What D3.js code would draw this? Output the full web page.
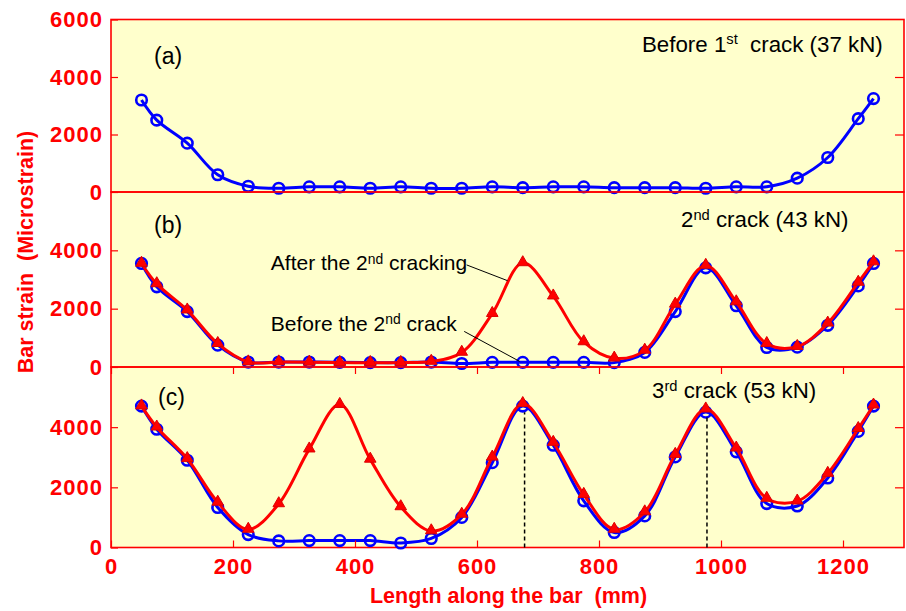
<!DOCTYPE html>
<html>
<head>
<meta charset="utf-8">
<script src="https://cdn.jsdelivr.net/npm/d3@7/dist/d3.min.js"></script>
<style>
  body { margin: 0; background: #ffffff; }
  svg { display: block; }
  text { font-family: Arial, "Liberation Sans", sans-serif; }
</style>
</head>
<body>
<svg id="chart" width="906" height="611"></svg>
<script>
// Gauge positions along the bar (mm)
const positions = [50, 75, 125, 175, 225, 275, 325, 375, 425, 475, 525, 575, 625,
                   675, 725, 775, 825, 875, 925, 975, 1025, 1075, 1125, 1175, 1225, 1250];

// (a) before the 1st crack, 37 kN
const strainBefore1st = [3200, 2500, 1700, 600, 200, 130, 180, 180, 130, 180, 130, 130, 180,
                         150, 180, 180, 150, 150, 150, 130, 180, 180, 480, 1200, 2550, 3250];

// (b) 2nd crack, 43 kN
const strainBefore2nd = [3550, 2750, 1900, 750, 170, 170, 170, 160, 150, 150, 170, 120, 160,
                         160, 160, 160, 150, 500, 1900, 3400, 2100, 670, 680, 1430, 2780, 3550];
const strainAfter2nd  = [3550, 2850, 1950, 800, 170, 170, 160, 150, 150, 150, 190, 500, 1830,
                         3570, 2430, 860, 300, 570, 2150, 3480, 2230, 800, 700, 1500, 2900, 3600];

// (c) 3rd crack, 53 kN
const strainBefore3rd = [4700, 3930, 2900, 1330, 430, 220, 230, 230, 230, 150, 300, 1000, 2820,
                         4700, 3400, 1550, 500, 1050, 3010, 4500, 3180, 1460, 1380, 2310, 3860, 4700];
const strainAfter3rd  = [4700, 4000, 2950, 1500, 600, 1450, 3270, 4750, 2930, 1350, 550, 1100, 3000,
                         4780, 3490, 1760, 600, 1180, 3090, 4600, 3300, 1630, 1540, 2460, 3950, 4730];

// Crack locations marked in panel (c)
const crackPositions = [678, 977];
const crackMarkTop = [4500, 4400];

// Axis ticks
const lengthTicks = [0, 200, 400, 600, 800, 1000, 1200];
const strainTicksTop = [0, 2000, 4000, 6000];
const strainTicksLower = [0, 2000, 4000];
const strainInnerTicks = [2000, 4000];

const RED = "#ff0000", BLUE = "#0000ff", FILL = "#ffffcc";

const svg = d3.select("#chart");
const left = 111, right = 904;

const x = d3.scaleLinear().domain([0, 1300]).range([left, right]);

const panels = [
  { top: 19.5, bottom: 192, tag: "(a)", tagDx: 154, tagDy: 44,
    ticks: strainTicksTop,
    series: [{ values: strainBefore1st, color: BLUE, marker: "circle" }] },
  { top: 192, bottom: 367, tag: "(b)", tagDx: 154, tagDy: 41,
    ticks: strainTicksLower,
    series: [{ values: strainBefore2nd, color: BLUE, marker: "circle" },
             { values: strainAfter2nd, color: RED, marker: "triangle" }] },
  { top: 367, bottom: 547.5, tag: "(c)", tagDx: 158, tagDy: 38,
    ticks: strainTicksLower,
    series: [{ values: strainBefore3rd, color: BLUE, marker: "circle" },
             { values: strainAfter3rd, color: RED, marker: "triangle" }] }
];

// Plot background
svg.append("rect")
  .attr("x", left).attr("y", panels[0].top)
  .attr("width", right - left).attr("height", panels[2].bottom - panels[0].top)
  .attr("fill", FILL);

const line = d3.line().curve(d3.curveCatmullRom.alpha(0.5));
const intFmt = d3.format("d");

panels.forEach((p, i) => {
  p.y = d3.scaleLinear().domain([0, 6000]).range([p.bottom, p.top]);
  const g = svg.append("g");

  // left axis: inward ticks, red bold labels
  const yAxis = d3.axisLeft(p.y).tickValues(p.ticks).tickSize(-7).tickPadding(8)
    .tickFormat(intFmt);
  const ga = g.append("g").attr("transform", `translate(${left},0)`).call(yAxis);
  ga.select(".domain").remove();
  ga.selectAll("line").attr("stroke", RED).attr("stroke-width", 1.2);
  ga.selectAll("text").attr("fill", RED).attr("font-size", 22).attr("font-weight", "bold")
    .attr("letter-spacing", 1);

  // right axis: inward ticks only
  const gr = g.append("g").attr("transform", `translate(${right},0)`)
    .call(d3.axisRight(p.y).tickValues(strainInnerTicks).tickSize(-9).tickFormat(""));
  gr.select(".domain").remove();
  gr.selectAll("line").attr("stroke", RED).attr("stroke-width", 1.2);

  // panel border
  g.append("rect")
    .attr("x", left).attr("y", p.top)
    .attr("width", right - left).attr("height", p.bottom - p.top)
    .attr("fill", "none").attr("stroke", RED).attr("stroke-width", 1.6);

  // series
  p.series.forEach(s => {
    const pts = positions.map((pos, k) => [x(pos), p.y(s.values[k])]);
    g.append("path").attr("d", line(pts))
      .attr("fill", "none").attr("stroke", s.color).attr("stroke-width", 3)
      .attr("stroke-linejoin", "round");
    if (s.marker === "circle") {
      g.selectAll(null).data(pts).enter().append("circle")
        .attr("cx", d => d[0]).attr("cy", d => d[1]).attr("r", 5.3)
        .attr("fill", "none").attr("stroke", s.color).attr("stroke-width", 2.6);
    } else {
      const tri = d3.symbol().type(d3.symbolTriangle).size(58);
      g.selectAll(null).data(pts).enter().append("path")
        .attr("d", tri)
        .attr("transform", d => `translate(${d[0]},${d[1] - 0.5})`)
        .attr("fill", s.color).attr("stroke", "#dd0000").attr("stroke-width", 1);
    }
  });

  // panel tag
  g.append("text").attr("x", p.tagDx).attr("y", p.top + p.tagDy)
    .attr("font-size", 23).attr("fill", "#000").text(p.tag);
});

// Text with an ordinal superscript
function supTitle(xPos, yPos, size, base, sup, rest) {
  const t = svg.append("text").attr("x", xPos).attr("y", yPos)
    .attr("font-size", size).attr("fill", "#000").style("white-space", "pre");
  t.append("tspan").text(base);
  t.append("tspan").attr("font-size", size * 0.66).attr("dy", -size * 0.33).text(sup);
  t.append("tspan").attr("dy", size * 0.33).text(rest);
  return t;
}
supTitle(642, panels[0].top + 32, 22.3, "Before 1", "st", "  crack (37 kN)");
supTitle(681, panels[1].top + 35, 22.3, "2", "nd", " crack (43 kN)");
supTitle(652, panels[2].top + 31, 22.3, "3", "rd", " crack (53 kN)");

// Callouts in panel (b), placed in data units
const yB = panels[1].y;
supTitle(x(262), yB(3310), 21, "After the 2", "nd", " cracking");
supTitle(x(262), yB(1220), 21, "Before the 2", "nd", " crack");
const leaders = [
  { from: [583, 3500], to: [650, 2960] },
  { from: [579, 1220], to: [670, 190] }
];
leaders.forEach(l => {
  svg.append("line")
    .attr("x1", x(l.from[0])).attr("y1", yB(l.from[1]))
    .attr("x2", x(l.to[0])).attr("y2", yB(l.to[1]))
    .attr("stroke", "#000").attr("stroke-width", 1);
});

// Crack positions in panel (c)
const yC = panels[2].y;
crackPositions.forEach((c, i) => {
  svg.append("line")
    .attr("x1", x(c)).attr("x2", x(c))
    .attr("y1", yC(0)).attr("y2", yC(crackMarkTop[i]))
    .attr("stroke", "#000").attr("stroke-width", 1.5).attr("stroke-dasharray", "4,3");
});

// x axis: ticks on top and bottom of panel (c), labels below
const gxb = svg.append("g").attr("transform", `translate(0,${panels[2].bottom})`)
  .call(d3.axisBottom(x).tickValues(lengthTicks).tickSize(-7).tickPadding(11).tickFormat(intFmt));
gxb.select(".domain").remove();
gxb.selectAll("line").attr("stroke", RED).attr("stroke-width", 1.2);
gxb.selectAll("text").attr("fill", RED).attr("font-size", 22).attr("font-weight", "bold")
  .attr("letter-spacing", 1);

const gxt = svg.append("g").attr("transform", `translate(0,${panels[2].top})`)
  .call(d3.axisTop(x).tickValues(lengthTicks).tickSize(-7).tickFormat(""));
gxt.select(".domain").remove();
gxt.selectAll("line").attr("stroke", RED).attr("stroke-width", 1.2);

// Axis titles
svg.append("text")
  .attr("x", (left + right) / 2 + 1).attr("y", 603)
  .attr("text-anchor", "middle").attr("fill", RED)
  .attr("font-size", 21.5).attr("font-weight", "bold").style("white-space", "pre")
  .text("Length along the bar  (mm)");

svg.append("text")
  .attr("transform", "translate(33,252) rotate(-90)")
  .attr("text-anchor", "middle").attr("fill", RED)
  .attr("font-size", 21.5).attr("font-weight", "bold").style("white-space", "pre")
  .text("Bar strain  (Microstrain)");
</script>
</body>
</html>
